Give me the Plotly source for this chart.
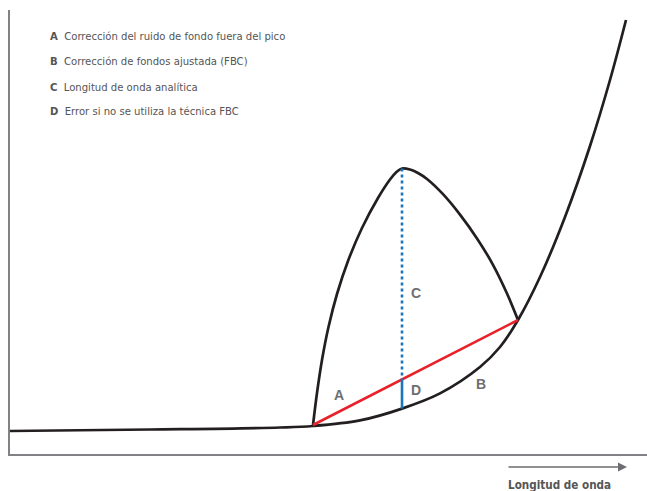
import plotly.graph_objects as go

W, H = 647, 491

# Background curve (pixel rows, converted to y-up below)
bg_x = [10, 150, 280, 313, 360, 402, 440, 480, 500, 518, 540, 565, 590, 610, 626]
bg_py = [431, 429.5, 427.5, 426, 420.4, 408.6, 393.4, 367, 347, 320, 277, 217, 146, 80, 20]
bg_y = [H - v for v in bg_py]

# Peak curve
pk_x = [313, 317, 322, 328.5, 337, 348, 362, 378, 390, 396, 402, 410, 418, 427, 443, 460, 477, 493, 507, 518]
pk_py = [425, 393, 360, 327, 294, 261, 228, 198, 179.5, 172.5, 168.5, 169.5, 173, 179, 194.2, 214.6, 238.4, 264.8, 293.5, 320]
pk_y = [H - v for v in pk_py]

# Background correction line (FBC) endpoints
fbc_x = [313, 518]
fbc_y = [H - 425, H - 320]

peak_x = 402
peak_y = H - 168.5
line_at_peak = fbc_y[0] + (fbc_y[1] - fbc_y[0]) * (peak_x - fbc_x[0]) / (fbc_x[1] - fbc_x[0])
bg_at_peak = H - 408.6

legend_letters = ["A", "B", "C", "D"]
legend_texts = ["Corrección del ruido de fondo fuera del pico",
                "Corrección de fondos ajustada (FBC)",
                "Longitud de onda analítica",
                "Error si no se utiliza la técnica FBC"]
legend_y = [H - 37, H - 62, H - 87, H - 111]

mark_labels = ["A", "B", "C", "D"]
mark_x = [339, 481, 416, 416]
mark_y = [H - 395, H - 384, H - 293, H - 390]

FONT = "DejaVu Sans Condensed, Liberation Sans Narrow, Arial Narrow, sans-serif"
BLACK = "#231f20"

fig = go.Figure()
fig.add_trace(go.Scatter(x=bg_x, y=bg_y, mode="lines", line=dict(color=BLACK, width=2.7, shape="spline", smoothing=1.0), hoverinfo="skip"))
fig.add_trace(go.Scatter(x=pk_x, y=pk_y, mode="lines", line=dict(color=BLACK, width=2.7, shape="spline", smoothing=1.0), hoverinfo="skip"))
fig.add_trace(go.Scatter(x=fbc_x, y=fbc_y, mode="lines", line=dict(color="#e8202a", width=2.6), hoverinfo="skip"))
fig.add_trace(go.Scatter(x=[peak_x, peak_x], y=[peak_y, line_at_peak], mode="lines", line=dict(color="#1a75bc", width=2.6, dash="dot"), hoverinfo="skip"))
fig.add_trace(go.Scatter(x=[peak_x, peak_x], y=[line_at_peak, bg_at_peak], mode="lines", line=dict(color="#1a75bc", width=2.6), hoverinfo="skip"))

annotations = []
for L, t, y in zip(legend_letters, legend_texts, legend_y):
    annotations.append(dict(x=48, y=y, xref="x", yref="y", xanchor="left", yanchor="middle", showarrow=False,
                            text="<b>%s</b>  %s" % (L, t), font=dict(family=FONT, size=11.2, color="#555555")))
for L, x, y in zip(mark_labels, mark_x, mark_y):
    annotations.append(dict(x=x, y=y, xref="x", yref="y", showarrow=False, text="<b>%s</b>" % L,
                            font=dict(family="Liberation Sans, Arial, sans-serif", size=14, color="#6d6e71")))
annotations.append(dict(x=506 / W, y=1 - 485 / H, xref="paper", yref="paper", xanchor="left", yanchor="middle",
                        showarrow=False, text="<b>Longitud de onda</b>",
                        font=dict(family=FONT, size=11.6, color="#555555")))
annotations.append(dict(x=627 / W, y=1 - 467 / H, ax=-120, ay=0, xref="paper", yref="paper",
                        showarrow=True, arrowhead=2, arrowsize=1.2,
                        arrowwidth=1.5, arrowcolor="#6d6e71", text=""))

fig.update_layout(
    width=W, height=H, margin=dict(l=0, r=0, t=0, b=0),
    paper_bgcolor="white", plot_bgcolor="white", showlegend=False,
    annotations=annotations,
    xaxis=dict(domain=[10 / W, 1], range=[10, 647], showgrid=False, zeroline=False, showticklabels=False,
               ticks="", showline=True, linecolor="#808285", linewidth=1.5, fixedrange=True),
    yaxis=dict(domain=[(H - 454) / H, (H - 10) / H], range=[37, 481], showgrid=False, zeroline=False,
               showticklabels=False, ticks="", showline=True, linecolor="#808285", linewidth=1.5, fixedrange=True),
)
fig.write_html("out.html", config={"displayModeBar": False},
               post_script="document.body.style.margin='0px';document.body.style.overflow='hidden';")
